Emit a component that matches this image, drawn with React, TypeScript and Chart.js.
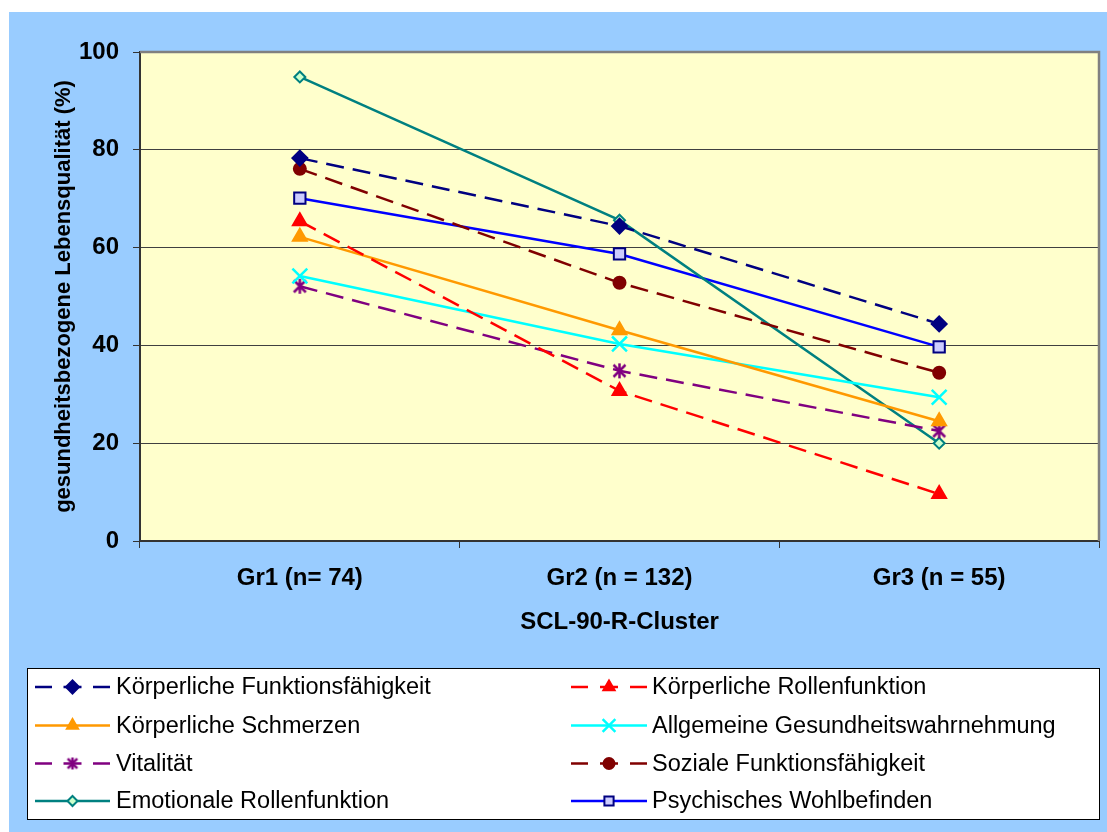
import React, { useEffect, useRef } from 'react';
import { Chart, registerables } from 'chart.js';
import { drawPoint } from 'chart.js/helpers';

Chart.register(...registerables);

const categories = ['Gr1 (n= 74)', 'Gr2 (n = 132)', 'Gr3 (n = 55)'];
const yTicks = [0, 20, 40, 60, 80, 100];

const seriesNames = [
  'Körperliche Funktionsfähigkeit',
  'Körperliche Rollenfunktion',
  'Körperliche Schmerzen',
  'Allgemeine Gesundheitswahrnehmung',
  'Vitalität',
  'Soziale Funktionsfähigkeit',
  'Emotionale Rollenfunktion',
  'Psychisches Wohlbefinden',
];

const koerperlicheFunktion = [78.3, 64.4, 44.4];
const koerperlicheRolle = [65.4, 30.7, 9.6];
const koerperlicheSchmerzen = [62.2, 43.1, 24.5];
const allgemeineGesundheit = [54.2, 40.3, 29.4];
const vitalitaet = [52.1, 34.8, 22.5];
const sozialeFunktion = [76.1, 52.8, 34.4];
const emotionaleRolle = [94.9, 65.6, 20.0];
const psychischesWohl = [70.1, 58.7, 39.7];

const FONT = '"Liberation Sans", Arial, sans-serif';
const DASH = [18, 9];

function asterisk(size: number, color: string, width: number): HTMLCanvasElement {
  const c = document.createElement('canvas');
  c.width = size;
  c.height = size;
  const g = c.getContext('2d')!;
  const m = size / 2;
  const r = m - 1;
  g.strokeStyle = color;
  g.lineWidth = width;
  g.lineCap = 'butt';
  g.beginPath();
  g.moveTo(m, m - r);
  g.lineTo(m, m + r);
  const d = r * 0.8;
  g.moveTo(m - d, m - d);
  g.lineTo(m + d, m + d);
  g.moveTo(m + d, m - d);
  g.lineTo(m - d, m + d);
  g.stroke();
  return c;
}

type Style = {
  color: string;
  fill: string;
  point: any;
  radius: number;
  legendRadius: number;
  dashed: boolean;
  pointBorder?: string;
};

const styles: Style[] = [
  { color: '#000080', fill: '#000080', point: 'rectRot', radius: 7.5, legendRadius: 6.5, dashed: true },
  { color: '#FF0000', fill: '#FF0000', point: 'triangle', radius: 8, legendRadius: 6.5, dashed: true },
  { color: '#FF9900', fill: '#FF9900', point: 'triangle', radius: 8, legendRadius: 6.5, dashed: false },
  { color: '#00FFFF', fill: '#00FFFF', point: 'crossRot', radius: 10.5, legendRadius: 9, dashed: false },
  { color: '#800080', fill: '#800080', point: 'asterisk', radius: 8, legendRadius: 6.5, dashed: true },
  { color: '#800000', fill: '#800000', point: 'circle', radius: 6, legendRadius: 5.5, dashed: true },
  { color: '#008080', fill: '#CCFFCC', point: 'rectRot', radius: 5.5, legendRadius: 5, dashed: false },
  { color: '#0000FF', fill: '#CCCCFF', point: 'rect', radius: 8, legendRadius: 6.5, dashed: false, pointBorder: '#000080' },
];

const seriesData = [
  koerperlicheFunktion,
  koerperlicheRolle,
  koerperlicheSchmerzen,
  allgemeineGesundheit,
  vitalitaet,
  sozialeFunktion,
  emotionaleRolle,
  psychischesWohl,
];

const framePlugin = {
  id: 'frame',
  beforeDraw(chart: any) {
    const { ctx, chartArea: a } = chart;
    ctx.save();
    ctx.fillStyle = '#FFFFCC';
    ctx.fillRect(a.left, a.top, a.right - a.left, a.bottom - a.top);
    ctx.restore();
  },
  beforeDatasetsDraw(chart: any) {
    const { ctx, chartArea: a } = chart;
    ctx.save();
    ctx.strokeStyle = '#808080';
    ctx.lineWidth = 2.5;
    ctx.beginPath();
    ctx.moveTo(a.left, a.top);
    ctx.lineTo(a.right, a.top);
    ctx.lineTo(a.right, a.bottom);
    ctx.stroke();
    ctx.restore();
  },
};

export default function App() {
  const ref = useRef<HTMLCanvasElement | null>(null);

  useEffect(() => {
    if (!ref.current) return;
    const starBig = asterisk(17, '#800080', 2.5);
    const starSmall = asterisk(14, '#800080', 2.5);
    const pointStyleOf = (st: Style, legend: boolean) =>
      st.point === 'asterisk' ? (legend ? starSmall : starBig) : st.point;

    const legendPlugin = {
      id: 'boxLegend',
      afterDraw(chart: any) {
        const { ctx } = chart;
        const box = { left: 18.5, top: 656.5, right: 1090.5, bottom: 807.5 };
        ctx.save();
        ctx.fillStyle = '#FFFFFF';
        ctx.fillRect(box.left, box.top, box.right - box.left, box.bottom - box.top);
        ctx.strokeStyle = '#000000';
        ctx.lineWidth = 1;
        ctx.strokeRect(box.left, box.top, box.right - box.left, box.bottom - box.top);

        const rowsY = [675, 713.5, 751.5, 789];
        const cols = [
          { x0: 26, x1: 101, text: 107 },
          { x0: 562, x1: 638, text: 643 },
        ];
        chart.data.datasets.forEach((ds: any, i: number) => {
          const st = styles[i];
          const row = Math.floor(i / 2);
          const col = cols[i % 2];
          const y = rowsY[row];
          const cx = (col.x0 + col.x1) / 2;
          ctx.strokeStyle = st.color;
          ctx.lineWidth = 2.5;
          ctx.setLineDash([]);
          ctx.beginPath();
          if (st.dashed) {
            ctx.moveTo(col.x0, y);
            ctx.lineTo(col.x0 + 17, y);
            ctx.moveTo(cx - 9, y);
            ctx.lineTo(cx + 9, y);
            ctx.moveTo(col.x1 - 17, y);
            ctx.lineTo(col.x1, y);
          } else {
            ctx.moveTo(col.x0, y);
            ctx.lineTo(col.x1, y);
          }
          ctx.stroke();
          ctx.fillStyle = st.fill;
          ctx.strokeStyle = st.pointBorder || st.color;
          ctx.lineWidth = st.point === 'crossRot' ? 2.5 : 2;
          drawPoint(
            ctx,
            { pointStyle: pointStyleOf(st, true), radius: st.legendRadius, rotation: 0, borderWidth: ctx.lineWidth } as any,
            cx,
            y
          );
          ctx.fillStyle = '#000000';
          ctx.font = `23.5px ${FONT}`;
          ctx.textBaseline = 'middle';
          ctx.textAlign = 'left';
          ctx.fillText(ds.label, col.text, y + 1);
        });
        ctx.restore();
      },
    };

    const datasets = seriesNames.map((name, i) => {
      const st = styles[i];
      return {
        label: name,
        data: seriesData[i],
        borderColor: st.color,
        backgroundColor: st.fill,
        borderWidth: 2.5,
        borderDash: st.dashed ? DASH : [],
        pointStyle: pointStyleOf(st, false),
        pointRadius: st.radius,
        pointBackgroundColor: st.fill,
        pointBorderColor: st.pointBorder || st.color,
        pointBorderWidth: st.point === 'crossRot' ? 2.5 : 2,
        tension: 0,
        fill: false,
      };
    });

    const chart = new Chart(ref.current, {
      type: 'line',
      data: { labels: categories, datasets },
      options: {
        animation: false,
        responsive: false,
        events: [],
        layout: { autoPadding: false, padding: { top: 40, right: 8, left: 0, bottom: 171 } },
        plugins: {
          legend: { display: false },
          tooltip: { enabled: false },
        },
        scales: {
          x: {
            type: 'category',
            offset: true,
            afterFit: (s: any) => {
              s.height = 120;
              s.paddingLeft = 0;
              s.paddingRight = 0;
            },
            grid: {
              offset: true,
              drawOnChartArea: false,
              drawTicks: true,
              tickLength: 7,
              color: '#333333',
              lineWidth: 1,
            },
            border: { display: true, color: '#333333', width: 2 },
            ticks: {
              color: '#000000',
              padding: 16,
              maxRotation: 0,
              font: { family: FONT, size: 24, weight: 'bold' },
            },
            title: {
              display: true,
              text: 'SCL-90-R-Cluster',
              color: '#000000',
              padding: { top: 0, bottom: 24 },
              font: { family: FONT, size: 24, weight: 'bold' },
            },
          },
          y: {
            min: 0,
            max: 100,
            afterFit: (s: any) => {
              s.width = 131;
              s.paddingLeft = 0;
              s.paddingRight = 0;
            },
            afterBuildTicks: (s: any) => { s.ticks = yTicks.map((v) => ({ value: v })); },
            grid: {
              color: '#404040',
              lineWidth: 1,
              drawTicks: true,
              tickLength: 7,
              tickColor: '#333333',
            },
            border: { display: true, color: '#333333', width: 2 },
            ticks: {
              color: '#000000',
              padding: 14,
              font: { family: FONT, size: 24, weight: 'bold' },
            },
            title: {
              display: true,
              text: 'gesundheitsbezogene Lebensqualität (%)',
              color: '#000000',
              padding: { top: 42, bottom: 0 },
              font: { family: FONT, size: 22, weight: 'bold' },
            },
          },
        },
      } as any,
      plugins: [framePlugin, legendPlugin],
    });
    return () => chart.destroy();
  }, []);

  return (
    <div
      style={{
        position: 'absolute',
        left: 9,
        top: 12,
        width: 1098,
        height: 820,
        background: '#99CCFF',
      }}
    >
      <canvas ref={ref} width={1098} height={820} style={{ display: 'block' }} />
    </div>
  );
}
